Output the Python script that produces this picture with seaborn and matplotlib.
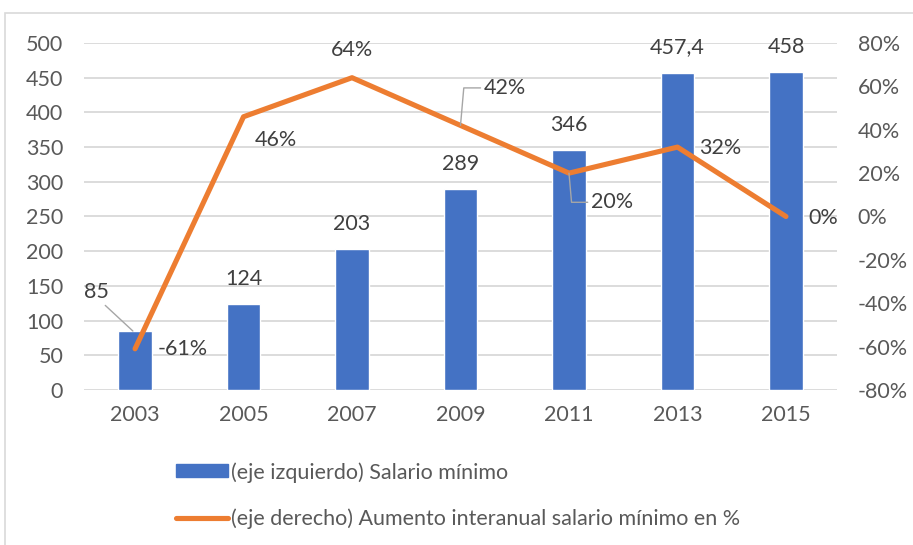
import matplotlib
matplotlib.use("Agg")
import matplotlib.pyplot as plt
from matplotlib.patches import Rectangle
from matplotlib.lines import Line2D
from matplotlib.patches import Patch
import seaborn as sns
import pandas as pd

# Data
years = ["2003", "2005", "2007", "2009", "2011", "2013", "2015"]
salario = [85, 124, 203, 289, 346, 457.4, 458]
salario_labels = ["85", "124", "203", "289", "346", "457,4", "458"]
aumento = [-0.61, 0.46, 0.64, 0.42, 0.20, 0.32, 0.0]
aumento_labels = ["-61%", "46%", "64%", "42%", "20%", "32%", "0%"]

bar_label = "(eje izquierdo) Salario mínimo"
line_label = "(eje derecho) Aumento interanual salario mínimo en %"

BLUE = "#4472C4"
ORANGE = "#ED7D31"
TICK = "#595959"
LABEL = "#404040"
GRID = "#D9D9D9"

sns.set_style("white")
plt.rcParams["font.family"] = ["Lato", "DejaVu Sans"]
FS = 15.5

df = pd.DataFrame({"year": years, "salario": salario, "aumento": aumento})

fig = plt.figure(figsize=(9.13, 5.45), dpi=100)
ax = fig.add_axes([84 / 913, 1 - 390 / 545, (837 - 84) / 913, (390 - 43) / 545])

sns.barplot(data=df, x="year", y="salario", color=BLUE, width=0.31,
            saturation=1, ax=ax, zorder=2)
ax.set_ylim(0, 500)
ax.set_yticks(range(0, 501, 50))
ax.yaxis.grid(True, color=GRID, linewidth=1.3)
ax.set_axisbelow(True)
ax.set_xlabel("")
ax.set_ylabel("")
ax.tick_params(axis="both", length=0, labelsize=FS, colors=TICK)
ax.tick_params(axis="y", pad=15)
ax.tick_params(axis="x", pad=11)
for s in ax.spines.values():
    s.set_visible(False)

ax2 = ax.twinx()
sns.lineplot(data=df, x="year", y="aumento", color=ORANGE, linewidth=3.7,
             ax=ax2, solid_capstyle="round", zorder=3)
ax2.set_ylim(-0.8, 0.8)
ax2.set_yticks([i / 10 for i in range(-8, 9, 2)])
ax2.set_yticklabels([f"{round(v * 100)}%" for v in ax2.get_yticks()])
ax2.set_ylabel("")
ax2.tick_params(axis="y", length=0, labelsize=FS, colors=TICK, pad=15)
ax2.grid(False)
for s in ax2.spines.values():
    s.set_visible(False)

# bar value labels
leader = dict(arrowstyle="-", color="#A6A6A6", lw=1, shrinkA=0, shrinkB=0)
for i, (v, t) in enumerate(zip(salario, salario_labels)):
    if i == 0:
        ax.annotate(t, xy=(i - 0.02, v), xytext=(-26, 28), textcoords="offset points",
                    ha="center", va="center", fontsize=FS, color=LABEL,
                    arrowprops=dict(leader, relpos=(0.7, 0.0)))
    else:
        ax.annotate(t, xy=(i, v), xytext=(0, 18), textcoords="offset points",
                    ha="center", va="center", fontsize=FS, color=LABEL)

# line value labels (offsets in points)
offsets = [(34, 0), (23, -17), (0, 20), (32, 27), (31, -21), (31, -1), (27, -1)]
for i, (v, t) in enumerate(zip(aumento, aumento_labels)):
    dx, dy = offsets[i]
    props = None
    if i == 3:
        props = dict(leader, connectionstyle="angle,angleA=0,angleB=85,rad=0",
                     relpos=(0.0, 0.5))
    elif i == 4:
        props = dict(leader, connectionstyle="angle,angleA=0,angleB=-85,rad=0",
                     relpos=(0.0, 0.5))
    ax2.annotate(t, xy=(i, v), xytext=(dx, dy), textcoords="offset points",
                 ha="center", va="center", fontsize=FS, color=LABEL,
                 arrowprops=props, zorder=4)

# legend
handles = [Patch(facecolor=BLUE, edgecolor=BLUE),
           Line2D([0], [0], color=ORANGE, linewidth=3.7, solid_capstyle="round")]
fig.legend(handles, [bar_label, line_label], loc="upper left",
           bbox_to_anchor=(176 / 913, 1 - 462 / 545), frameon=False,
           fontsize=FS, labelcolor=TICK, handlelength=2.4, handleheight=0.55,
           handletextpad=0.15, labelspacing=1.2, borderpad=0, borderaxespad=0)

# outer chart frame
fig.add_artist(Rectangle((5 / 913, -0.1), 1.0, 1.1 - 13 / 545,
                         transform=fig.transFigure, fill=False,
                         edgecolor=GRID, linewidth=1.2))

fig.savefig("out.png", dpi=100, facecolor="white")
